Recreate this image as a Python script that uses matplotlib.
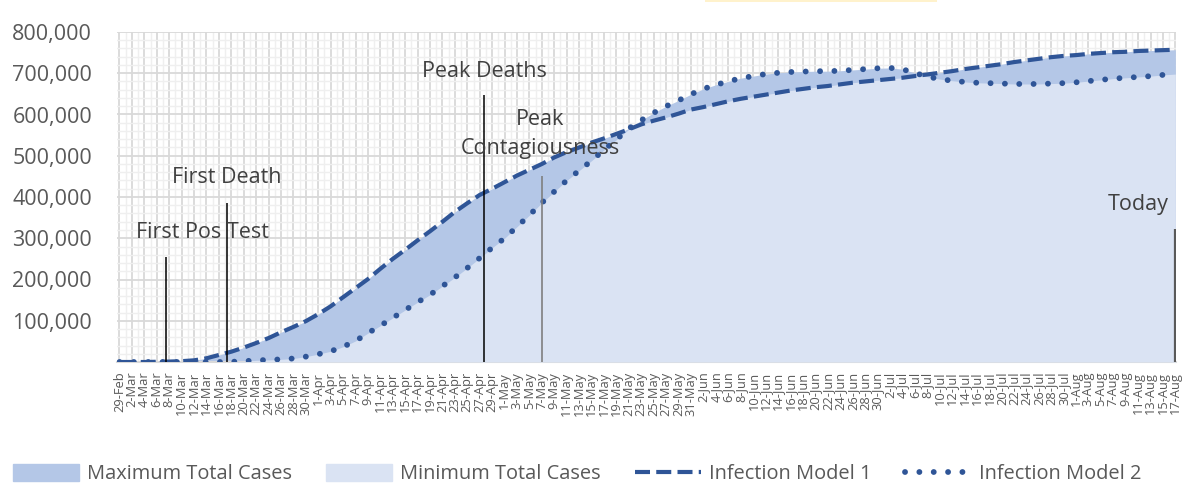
import numpy as np
import pandas as pd
import matplotlib.pyplot as plt
from matplotlib.patches import Patch, Rectangle
from matplotlib.lines import Line2D
from matplotlib.ticker import FuncFormatter, MultipleLocator
import matplotlib.dates as mdates

plt.rcParams['font.family'] = ['Open Sans', 'DejaVu Sans']

# every second day, 29-Feb .. 17-Aug 2020
dates = pd.date_range('2020-02-29', '2020-08-17', freq='2D')

# total cases, thousands
model1 = np.array([
    0, 0, 0, 0.5, 1, 2, 4, 9, 17, 25,
    35, 46, 58, 72, 85, 99, 116, 135, 157, 179,
    201, 226, 250, 272, 295, 317, 340, 364, 385, 405,
    420, 436, 452, 466, 480, 496, 509, 520, 532, 542,
    553, 564, 576, 585, 593, 602, 612, 618, 625, 632,
    638, 643, 648, 653, 658, 662, 666, 669, 673, 677,
    680, 683, 686, 689, 693, 697, 701, 705, 710, 714,
    718, 722, 727, 731, 735, 739, 742, 744, 747, 749,
    751, 752, 754, 755, 756, 757]) * 1000

model2 = np.array([
    0, 0, 0, 0, 0, 0, 0, 0, 0, 0.5,
    2, 4, 5, 6.5, 8.5, 13, 19, 26, 37, 51,
    70, 88, 107, 126, 145, 163, 184, 205, 228, 252,
    277, 300, 328, 356, 386, 413, 440, 464, 488, 514,
    539, 566, 586, 604, 620, 634, 649, 662, 672, 680,
    688, 693, 698, 701, 703, 704, 705, 705, 706, 708,
    710, 712, 713, 710, 701, 692, 686, 682, 679, 677,
    676, 675, 674, 674, 674, 675, 676, 678, 681, 684,
    687, 689, 691, 693, 696, 698]) * 1000

max_cases = np.maximum(model1, model2)
min_cases = np.minimum(model1, model2)

events = ['First Pos Test', 'First Death', 'Peak Deaths', 'Peak\nContagiousness', 'Today']
event_dates = pd.to_datetime(['2020-03-07 12:00', '2020-03-17 06:00', '2020-04-27 18:00',
                              '2020-05-07 00:00', '2020-08-17 00:00'])
event_tops = [255000, 385000, 647000, 451000, 322000]

tick_labels = [f"{d.day}-{d:%b}" for d in dates]

blue = '#2f5597'
fig = plt.figure(figsize=(11.93, 4.87), dpi=100)
ax = fig.add_axes([117 / 1193, 1 - 362 / 487, 1059 / 1193, 330 / 487])

ax.fill_between(dates, 0, max_cases, color='#b4c7e7', lw=0, zorder=2)
ax.fill_between(dates, 0, min_cases, color='#dae3f3', lw=0, zorder=3)
ax.plot(dates, model1, color=blue, lw=3.0, dashes=(3.6, 1.5), zorder=5)
ax.plot(dates, model2, color=blue, lw=4.2, linestyle=(0, (0.01, 2.45)),
        dash_capstyle='round', zorder=5)

# event markers
line_colors = ['black', 'black', 'black', '#7f7f7f', '#595959']
line_widths = [1.1, 1.1, 1.1, 1.2, 1.6]
for d, top, c, w in zip(event_dates, event_tops, line_colors, line_widths):
    ax.vlines(d, 0, top, color=c, lw=w, zorder=6)

day = pd.Timedelta(days=1)
t0 = dates[0]
label_pos = [(t0 + 13.3 * day, 315000, 'center'),
             (t0 + 17.3 * day, 448000, 'center'),
             (t0 + 58.8 * day, 705000, 'center'),
             (t0 + 67.7 * day, 553000, 'center'),
             (t0 + 168.9 * day, 383000, 'right')]
for txt, (x, y, ha) in zip(events, label_pos):
    ax.text(x, y, txt, ha=ha, va='center', fontsize=15.5, color='#404040',
            linespacing=1.5, zorder=7)

ax.set_xlim(t0 - 0.4 * day, dates[-1] + 0.1 * day)
ax.set_ylim(0, 800000)

ax.set_xticks(dates)
ax.set_xticklabels(tick_labels, rotation=90, fontsize=9.3, color='#595959')
ax.xaxis.set_minor_locator(mdates.DayLocator())
ax.yaxis.set_major_locator(MultipleLocator(100000))
ax.yaxis.set_minor_locator(MultipleLocator(20000))
ax.yaxis.set_major_formatter(FuncFormatter(lambda v, p: f"{int(v):,}" if v > 0 else ""))
ax.tick_params(axis='y', labelsize=15.5, labelcolor='#595959', length=0, pad=18)
ax.tick_params(axis='x', length=0, pad=7)
ax.tick_params(which='minor', length=0)

ax.grid(which='major', color='#d9d9d9', lw=1.3, zorder=0)
ax.grid(which='minor', color='#efefef', lw=1.0, zorder=0)
ax.set_axisbelow(True)
for s in ax.spines.values():
    s.set_visible(False)
ax.spines['bottom'].set_visible(True)
ax.spines['bottom'].set_color('#d9d9d9')
ax.spines['bottom'].set_linewidth(1.5)

handles = [Patch(color='#b4c7e7'), Patch(color='#dae3f3'),
           Line2D([], [], color=blue, lw=3.0, dashes=(3.6, 1.5)),
           Line2D([], [], color=blue, lw=4.2, linestyle=(0, (0.01, 2.45)), dash_capstyle='round')]
fig.legend(handles, ['Maximum Total Cases', 'Minimum Total Cases', 'Infection Model 1', 'Infection Model 2'],
           loc='center', bbox_to_anchor=(0.484, 1 - 474 / 487), ncol=4, frameon=False,
           fontsize=14.4, handlelength=3.3, handleheight=0.9, handletextpad=0.4,
           columnspacing=1.7, labelcolor='#595959')

fig.patches.append(Rectangle((705 / 1193, 1 - 2 / 487), 232 / 1193, 2 / 487,
                             transform=fig.transFigure, color='#fff2cc', lw=0))

fig.savefig('out.png', dpi=100)
